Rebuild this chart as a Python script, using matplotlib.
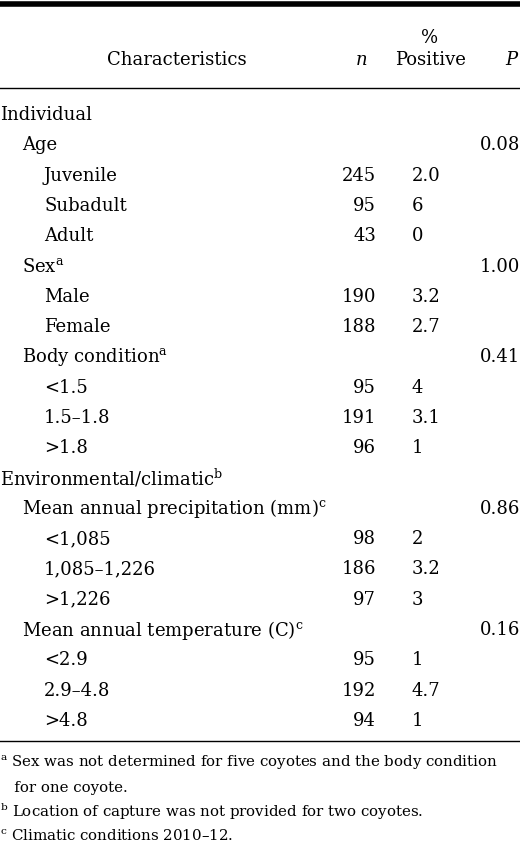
import matplotlib
matplotlib.use("Agg")
import matplotlib.pyplot as plt

plt.rcParams['font.family'] = ['DejaVu Serif']
plt.rcParams['mathtext.fontset'] = 'dejavuserif'

labels = ["Individual", "Age", "Juvenile", "Subadult", "Adult", "Sex$^{\\rm a}$", "Male", "Female",
          "Body condition$^{\\rm a}$", "<1.5", "1.5\u20131.8", ">1.8", "Environmental/climatic$^{\\rm b}$",
          "Mean annual precipitation (mm)$^{\\rm c}$", "<1,085", "1,085\u20131,226", ">1,226",
          "Mean annual temperature (C)$^{\\rm c}$", "<2.9", "2.9\u20134.8", ">4.8"]
levels = [0, 1, 2, 2, 2, 1, 2, 2, 1, 2, 2, 2, 0, 1, 2, 2, 2, 1, 2, 2, 2]
n_vals = ["", "", "245", "95", "43", "", "190", "188", "", "95", "191", "96", "", "", "98", "186", "97", "", "95", "192", "94"]
pos_vals = ["", "", "2.0", "6", "0", "", "3.2", "2.7", "", "4", "3.1", "1", "", "", "2", "3.2", "3", "", "1", "4.7", "1"]
p_vals = ["", "0.08", "", "", "", "1.00", "", "", "0.41", "", "", "", "", "0.86", "", "", "", "0.16", "", "", ""]
footnotes = ["$^{\\rm a}$ Sex was not determined for five coyotes and the body condition",
             "   for one coyote.",
             "$^{\\rm b}$ Location of capture was not provided for two coyotes.",
             "$^{\\rm c}$ Climatic conditions 2010\u201312."]

W, H = 520, 844
fig = plt.figure(figsize=(W/100, H/100), dpi=100)
fs = 13

def T(x, y, s, **kw):
    kw.setdefault('fontsize', fs)
    kw.setdefault('va', 'center')
    fig.text(x/W, 1 - y/H, s, **kw)

def L(y, lw):
    fig.add_artist(plt.Line2D([0, 1], [1 - y/H, 1 - y/H], color='black', lw=lw))

L(3.5, 4)
L(88, 1)
L(741, 1)

T(177, 60, "Characteristics", ha='center')
T(361, 60, "$n$", ha='center')
T(430, 38, "%", ha='center')
T(430, 60, "Positive", ha='center')
T(512, 60, "$P$", ha='center')

y0, dy = 115, 30.3
for i, lab in enumerate(labels):
    y = y0 + i*dy
    T(levels[i]*22, y, lab, ha='left')
    if n_vals[i]:
        T(376, y, n_vals[i], ha='right')
    if pos_vals[i]:
        T(412, y, pos_vals[i], ha='left')
    if p_vals[i]:
        T(520, y, p_vals[i], ha='right')

for j, (f, y) in enumerate(zip(footnotes, [763, 788, 812, 836])):
    T(0, y, f, ha='left', fontsize=10.8)

fig.savefig("out.png", dpi=100)
